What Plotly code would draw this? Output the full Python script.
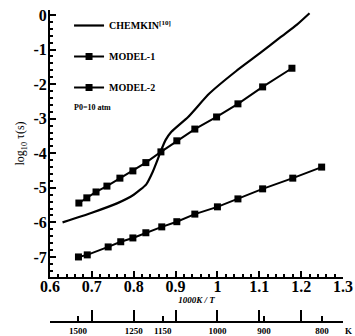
import plotly.graph_objects as go

# ---- data ----
chem_x = [0.63, 0.70, 0.76, 0.80, 0.83, 0.845, 0.855, 0.864, 0.876, 0.89, 0.93, 0.98, 1.045, 1.10, 1.15, 1.19, 1.22]
chem_y = [-6.0, -5.72, -5.45, -5.2, -4.9, -4.55, -4.25, -3.96, -3.62, -3.38, -2.95, -2.28, -1.62, -1.12, -0.65, -0.28, 0.05]

m1_x = [0.669, 0.688, 0.710, 0.736, 0.767, 0.798, 0.829, 0.865, 0.903, 0.946, 0.998, 1.049, 1.108, 1.178]
m1_y = [-5.44, -5.29, -5.12, -4.95, -4.72, -4.51, -4.27, -3.96, -3.64, -3.30, -2.95, -2.57, -2.08, -1.54]

m2_x = [0.668, 0.689, 0.739, 0.769, 0.798, 0.829, 0.867, 0.903, 0.946, 1.000, 1.049, 1.108, 1.180, 1.249]
m2_y = [-7.00, -6.94, -6.71, -6.56, -6.45, -6.30, -6.13, -5.98, -5.76, -5.55, -5.32, -5.03, -4.72, -4.40]

x_ticks = [0.6, 0.7, 0.8, 0.9, 1.0, 1.1, 1.2, 1.3]
x_ticktext = ["0.6", "0.7", "0.8", "0.9", "1", "1.1", "1.2", "1.3"]
y_ticks = [0, -1, -2, -3, -4, -5, -6, -7]
y_ticktext = ["0", "-1", "-2", "-3", "-4", "-5", "-6", "-7"]
temps = [1500, 1250, 1150, 1000, 900, 800]
temp_text = ["1500", "1250", "1150", "1000", "900", "800"]

SERIF = "Liberation Serif"
W, H = 355, 336
mt, mb = 2, 2
ph = H - mt - mb


def yfrac(py):
    return (H - mb - py) / ph


fig = go.Figure()

fig.add_trace(go.Scatter(x=chem_x, y=chem_y, mode="lines", name="CHEMKIN<sup>[10]</sup>",
                         line=dict(color="black", width=2.2, shape="spline", smoothing=0.5),
                         legendgroup="a"))
fig.add_trace(go.Scatter(x=m1_x, y=m1_y, mode="lines+markers", name="MODEL-1",
                         line=dict(color="black", width=2),
                         marker=dict(symbol="square", size=7, color="black"),
                         legendgroup="b"))
fig.add_trace(go.Scatter(x=m2_x, y=m2_y, mode="lines+markers", name="MODEL-2",
                         line=dict(color="black", width=2),
                         marker=dict(symbol="square", size=7, color="black"),
                         legendgroup="c"))
# empty traces that carry the temperature axis (secondary subplot)
fig.add_trace(go.Scatter(x=[], y=[], xaxis="x2", yaxis="y2", showlegend=False, hoverinfo="skip"))
fig.add_trace(go.Scatter(x=[], y=[], xaxis="x3", yaxis="y2", showlegend=False, hoverinfo="skip"))

y2_bottom = yfrac(321)

fig.update_layout(
    width=W, height=H,
    margin=dict(l=50, r=12, t=mt, b=mb),
    paper_bgcolor="white", plot_bgcolor="white",
    font=dict(family=SERIF, color="black"),
    showlegend=True,
    legend=dict(x=0.065, y=yfrac(11), xanchor="left", yanchor="top",
                font=dict(family=SERIF, size=10, weight="bold"),
                tracegroupgap=12, itemwidth=30, bgcolor="rgba(0,0,0,0)"),
    xaxis=dict(range=[0.6, 1.3], tickvals=x_ticks, ticktext=x_ticktext,
               showline=True, linecolor="black", linewidth=2,
               ticks="inside", ticklen=6, tickwidth=1.5, tickcolor="black",
               minor=dict(ticks="inside", ticklen=3, dtick=0.02, tickcolor="black"),
               tickfont=dict(family=SERIF, size=16, weight="bold"),
               ticklabelstandoff=-6, ticklabeloverflow="allow",
               showgrid=False, zeroline=False, mirror=False,
               title=dict(text="<i>1000K / T</i>", font=dict(family=SERIF, size=9, weight="bold"), standoff=0),
               automargin=False),
    yaxis=dict(range=[-7.58, 0.145], domain=[yfrac(277), yfrac(10)],
               tickvals=y_ticks, ticktext=y_ticktext,
               showline=True, linecolor="black", linewidth=2,
               ticks="inside", ticklen=6, tickwidth=1.5, tickcolor="black",
               minor=dict(ticks="inside", ticklen=3, dtick=0.2, tickcolor="black"),
               tickfont=dict(family=SERIF, size=16, weight="bold"),
               ticklabelstandoff=-2, ticklabeloverflow="allow",
               showgrid=False, zeroline=False,
               title=dict(text="log<sub>10</sub> τ(s)", font=dict(family=SERIF, size=12), standoff=6),
               automargin=False),
    xaxis2=dict(type="linear", range=[0.6, 1.3], anchor="y2", domain=[0, 1],
                tickmode="array", tickvals=[1000 / t for t in temps], ticktext=temp_text,
                showline=True, linecolor="black", linewidth=2,
                ticks="inside", ticklen=5, tickwidth=1.5, tickcolor="black",
                tickfont=dict(family=SERIF, size=9, weight="bold"),
                ticklabeloverflow="allow",
                showgrid=False, zeroline=False, automargin=False),
    xaxis3=dict(type="linear", range=[0.6, 1.3], anchor="y2", overlaying="x2", domain=[0, 1],
                tickmode="array", tickvals=x_ticks, showticklabels=False,
                showline=False, ticks="inside", ticklen=11, tickwidth=2, tickcolor="black",
                showgrid=False, zeroline=False, automargin=False),
    yaxis2=dict(type="linear", domain=[y2_bottom, y2_bottom + 0.04], anchor="x2",
                range=[0, 1], showticklabels=False, showline=False, ticks="",
                showgrid=False, zeroline=False),
)

fig.add_annotation(text="P0=10 atm", x=0.075, y=yfrac(107), xref="paper", yref="paper",
                   xanchor="left", yanchor="middle", showarrow=False,
                   font=dict(family=SERIF, size=8, weight="bold"))
fig.add_annotation(text="K", x=1.02, y=yfrac(331), xref="paper", yref="paper",
                   xanchor="center", yanchor="middle", showarrow=False,
                   font=dict(family=SERIF, size=9, weight="bold"))

# the page body has a default 8px margin; remove it so the 355x336 figure fills the window
fig.write_html("out.html", config={"displayModeBar": False},
               post_script="document.body.style.margin='0';")
